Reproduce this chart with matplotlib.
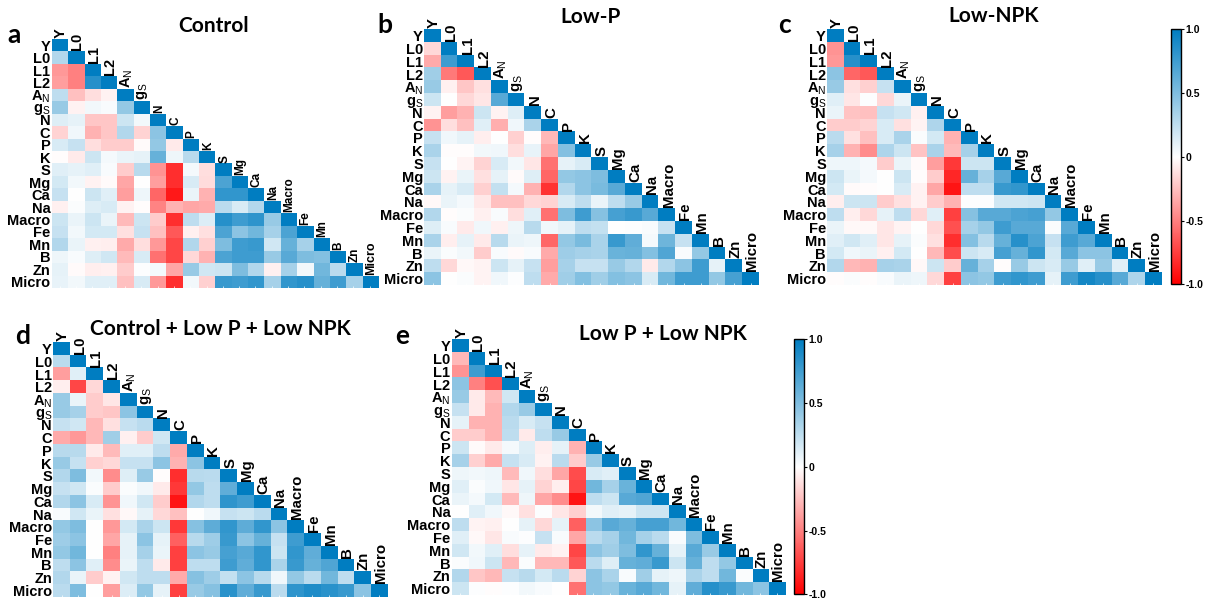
import numpy as np
import matplotlib
matplotlib.use("Agg")
import matplotlib.pyplot as plt
from matplotlib.colors import LinearSegmentedColormap

plt.rcParams['font.family'] = ['Liberation Sans', 'DejaVu Sans']
plt.rcParams['mathtext.fontset'] = 'custom'
plt.rcParams['mathtext.rm'] = 'Liberation Sans'
plt.rcParams['mathtext.default'] = 'rm'

labels = ["Y", "L0", "L1", "L2", "A$_{N}$", "g$_{S}$", "N", "C", "P", "K", "S", "Mg", "Ca", "Na",
          "Macro", "Fe", "Mn", "B", "Zn", "Micro"]

# lower triangle, one list per row, diagonal left out
control = [
    [.3],
    [-.4, -.5],
    [-.38, -.5, .85],
    [.25, -.25, -.13, -.05],
    [.4, -.05, .05, .03, .42],
    [.13, .1, -.22, -.22, .2, .05],
    [-.17, .06, -.3, -.22, .3, -.17, .45],
    [.15, .22, -.13, -.2, -.2, -.02, .42, -.08],
    [-.01, -.08, .2, .04, .08, .1, .6, .07, .28],
    [.12, .1, .12, .03, -.2, .28, -.42, -.82, .04, -.13],
    [.17, .05, -.05, -.02, -.35, 0, -.38, -.82, .15, -.14, .7],
    [.22, 0, .2, .12, -.38, .07, -.6, -.9, .08, -.3, .8, .8],
    [-.06, .02, .13, .15, -.05, -.01, -.48, -.3, -.35, -.33, .27, .15, .3],
    [.2, .08, .2, .08, -.27, .2, -.2, -.82, .25, .14, .85, .75, .82, .4],
    [.22, .05, .17, .17, -.12, .22, -.25, -.65, -.06, -.12, .7, .45, .55, .35, .7],
    [.3, .08, -.06, -.07, -.33, -.13, -.4, -.72, .3, -.18, .5, .75, .78, .18, .6, .35],
    [.07, .03, .13, .18, -.27, .15, -.55, -.72, -.15, -.3, .7, .75, .75, .4, .65, .5, .48],
    [.1, -.02, -.07, -.06, -.2, .01, .04, -.35, .4, .18, .2, .5, .3, -.06, .35, .05, .55, .27],
    [.09, .05, .12, .12, -.25, .15, -.4, -.82, .05, -.18, .78, .75, .8, .35, .8, .85, .6, .75, .35],
]
low_p = [
    [-.15],
    [-.33, .75],
    [.37, -.52, -.65],
    [.4, -.06, -.22, -.12],
    [.2, 0, -.15, -.1, .65],
    [-.05, -.38, -.3, .2, -.05, .13],
    [-.42, -.13, -.25, .12, -.32, .06, .33],
    [.22, .06, .1, -.07, 0, -.18, -.01, -.28],
    [.33, -.01, -.01, .05, .06, -.13, .09, -.35, .48],
    [.22, 0, -.04, -.17, .15, .05, -.1, -.55, .1, .15],
    [.2, -.05, .08, -.12, .1, -.02, .13, -.6, .42, .45, .5],
    [.33, .1, .15, -.18, .23, .04, -.3, -.8, .3, .45, .52, .65],
    [-.03, .08, .04, -.09, -.25, -.25, -.15, -.17, .15, .25, .08, .25, .4],
    [.3, -.01, .02, -.06, .03, -.13, .12, -.55, .5, .75, .47, .72, .78, .65],
    [.13, .03, -.08, .06, -.06, .07, .28, .06, .1, .25, .23, 0, .01, .03, .22],
    [.33, -.07, .1, -.08, .28, .08, .07, -.6, .42, .52, .33, .78, .62, .04, .57, .22],
    [.08, .02, .05, -.2, .03, -.02, .03, -.33, .38, .35, .33, .58, .6, .48, .68, .03, .42],
    [.25, -.15, -.03, -.04, .2, .1, .22, -.38, .35, .22, .22, .4, .3, -.08, .3, .45, .75, .1],
    [.45, 0, .02, -.04, .06, .01, .25, -.33, .37, .48, .37, .48, .45, .15, .55, .75, .75, .42, .72],
]
low_npk = [
    [-.42],
    [-.4, .85],
    [.45, -.6, -.65],
    [.4, -.12, -.18, .22],
    [.12, -.1, .01, -.15, .08],
    [.08, -.23, -.25, .22, .18, -.06],
    [-.2, -.2, -.17, .15, -.12, -.04, .32],
    [.27, -.12, -.25, .15, .33, .02, .17, -.3],
    [.35, -.3, -.45, .32, .2, -.23, .33, -.27, .35],
    [.07, .07, .04, -.2, .08, -.02, -.38, -.78, .2, .2],
    [.2, .08, .04, 0, .2, -.01, -.2, -.85, .6, .35, .65],
    [.17, -.02, -.01, 0, .15, -.05, -.35, -.92, .25, .25, .78, .8],
    [-.07, .2, .2, -.2, -.12, -.05, -.2, -.3, .01, .01, .18, .18, .2],
    [.25, -.07, -.15, .1, .25, -.15, .12, -.75, .47, .65, .65, .7, .72, .42],
    [.08, -.03, -.03, -.1, -.04, 0, -.15, -.68, .35, .42, .75, .65, .65, .02, .65],
    [.12, .18, .12, -.1, .1, .02, -.12, -.82, .48, .28, .6, .85, .7, .22, .75, .65],
    [.17, .06, .08, -.06, .17, 0, -.28, -.7, .2, .15, .72, .6, .8, .17, .65, .45, .45],
    [.3, -.28, -.3, .35, .33, -.03, .2, -.2, .6, .35, -.01, .4, .2, .15, .4, .12, .4, .12],
    [-.01, .02, -.01, .03, .08, .07, -.15, -.75, .45, .42, .75, .8, .75, .1, .75, .92, .85, .65, .32],
]
all_three = [
    [.27],
    [-.38, .12],
    [-.07, -.72, -.15],
    [.4, .08, -.2, -.1],
    [.4, .35, -.2, -.22, .45],
    [.22, .18, -.28, -.12, .22, .27],
    [-.33, -.4, -.28, .37, -.06, -.2, .18],
    [.28, .28, -.08, -.27, .12, .12, .25, -.33],
    [.4, .22, -.18, -.15, .22, .22, .45, -.3, .45],
    [.3, .5, .05, -.45, .13, .4, -.01, -.82, .28, .27],
    [.22, .18, .02, -.2, .02, .06, -.08, -.78, .42, .25, .62],
    [.3, .45, .15, -.42, .06, .18, -.2, -.92, .3, .25, .82, .75],
    [.03, .18, .08, -.12, -.03, .1, -.15, -.25, 0, .06, .22, .2, .27],
    [.42, .5, 0, -.4, .17, .33, .2, -.78, .47, .63, .8, .63, .8, .45],
    [.38, .45, 0, -.35, .1, .45, .1, -.62, .28, .38, .78, .45, .6, .22, .75],
    [.42, .55, 0, -.5, .1, .35, .08, -.75, .45, .4, .72, .65, .8, .2, .8, .62],
    [.25, .45, .12, -.45, .08, .25, -.08, -.75, .25, .25, .75, .62, .8, .33, .78, .6, .68],
    [.3, .08, -.2, -.05, .18, .25, .25, -.33, .47, .38, .23, .45, .28, .06, .42, .27, .55, .25],
    [.27, .5, 0, -.38, .14, .42, .1, -.75, .4, .47, .83, .62, .78, .27, .82, .88, .83, .78, .45],
]
low_p_npk = [
    [-.28],
    [-.42, .75],
    [.45, -.5, -.68],
    [.4, -.08, -.27, .18],
    [.22, -.08, -.3, .3, .4],
    [.1, -.3, -.3, .27, .15, .22],
    [-.2, -.2, -.3, .25, -.08, .25, .4],
    [.2, -.02, -.08, .04, .13, -.07, .1, -.3],
    [.35, -.18, -.33, .22, .15, -.05, .27, -.2, .4],
    [.07, .05, .07, -.27, .06, -.13, -.35, -.7, .15, .12],
    [.12, .02, .06, -.1, .1, -.17, -.07, -.72, .55, .35, .58],
    [.08, .04, .17, -.27, .07, -.35, -.45, -.92, .25, .2, .65, .68],
    [0, .12, .06, -.03, -.12, .01, -.1, -.18, .05, .12, .1, .2, .2],
    [.25, -.04, -.06, 0, .1, -.15, .1, -.62, .45, .65, .6, .72, .72, .55],
    [.12, -.03, -.1, .03, .01, .22, .03, -.35, .27, .35, .55, .35, .27, .03, .5],
    [.18, .05, .12, -.13, .1, -.08, -.05, -.72, .45, .37, .5, .8, .6, .1, .65, .4],
    [.02, .06, .2, -.28, .02, -.28, -.28, -.65, .27, .13, .6, .62, .78, .2, .6, .25, .42],
    [.3, -.22, -.28, .22, .28, .17, .27, -.17, .45, .33, .03, .37, .1, .07, .33, .25, .55, .02],
    [.2, .01, -.01, .01, .05, .03, 0, -.55, .45, .42, .58, .65, .55, .1, .62, .85, .78, .55, .45],
]

W, H = 1213, 600
cmap = LinearSegmentedColormap.from_list("rwb", ["#ff0000", "#ffffff", "#007dc1"])
fig = plt.figure(figsize=(W / 100, H / 100), dpi=100)


def px_axes(x0, y0, x1, y1):
    return fig.add_axes([x0 / W, 1 - y1 / H, (x1 - x0) / W, (y1 - y0) / H])


def to_matrix(rows):
    m = np.full((20, 20), np.nan)
    for i in range(20):
        m[i, i] = 1
    for i, row in enumerate(rows):
        m[i + 1, :len(row)] = row
    return m


def heat(rows, box, top_sizes):
    ax = px_axes(*box)
    ax.imshow(to_matrix(rows), cmap=cmap, vmin=-1, vmax=1, aspect='auto', interpolation='nearest')
    ax.set_yticks(range(20))
    ax.set_yticklabels(labels, fontsize=10.5, fontweight='bold')
    ax.set_xticks(range(20))
    ax.set_xticklabels([])
    ax.tick_params(axis='y', length=0, pad=1)
    ax.tick_params(axis='x', length=1.5, width=0.5, color='white', direction='in')
    for s in ax.spines.values():
        s.set_visible(False)
    # names above the diagonal
    for i, name in enumerate(labels):
        ax.text(i + 0.08, i - 0.58, name, rotation=90, ha='center', va='bottom',
                fontsize=top_sizes[i], fontweight='bold', clip_on=False)
    return ax


def cbar(im_box):
    cax = px_axes(*im_box)
    sm = plt.cm.ScalarMappable(cmap=cmap, norm=plt.Normalize(-1, 1))
    cb = fig.colorbar(sm, cax=cax, ticks=[-1, -.5, 0, .5, 1])
    cb.ax.set_yticklabels(["-1.0", "-0.5", "0", "0.5", "1.0"], fontsize=7.5, fontweight='bold')
    cb.ax.tick_params(length=2, width=0.8, pad=1)
    cb.outline.set_linewidth(1)


# panel a has the smaller names from P onwards
sizes_a = [10.5] * 6 + [8.5] * 13 + [9]
sizes = [10.8] * 20
heat(control, (51.7, 39, 377.7, 288), sizes_a)
heat(low_p, (424.3, 29.3, 759.3, 285), sizes)
heat(low_npk, (827.3, 29.3, 1161.7, 285), sizes)
heat(all_three, (53.3, 342.3, 387.7, 596.7), sizes)
heat(low_p_npk, (451.7, 339.3, 785, 595), sizes)

cbar((1170.7, 29.3, 1181, 284.3))
cbar((794.3, 339.3, 804.3, 594.3))

titles = ["Control", "Low-P", "Low-NPK", "Control + Low P + Low NPK", "Low P + Low NPK"]
title_x = [214, 591, 994, 220, 663]
title_y = [26, 17, 16, 329, 334]
letters = ["a", "b", "c", "d", "e"]
letter_x = [7, 377, 778, 15, 395]
letter_y = [35, 25, 25, 336, 336]
for t, x, y in zip(titles, title_x, title_y):
    fig.text(x / W, 1 - y / H, t, ha='center', va='center', fontsize=15, fontweight='bold', family='Lato')
for t, x, y in zip(letters, letter_x, letter_y):
    fig.text(x / W, 1 - y / H, t, ha='left', va='center', fontsize=19, fontweight='bold', family='Lato')

fig.savefig("out.png", dpi=100)
